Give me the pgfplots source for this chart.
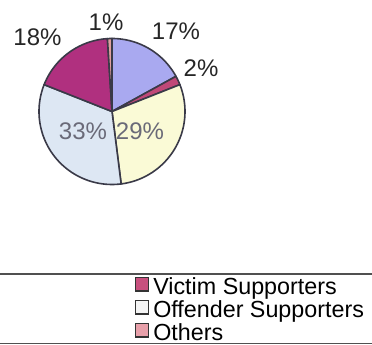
\documentclass[border=0pt]{standalone}
\usepackage{pgfplots}
\pgfplotsset{compat=1.18}
\usepackage{fontspec}
\setmainfont{Liberation Sans}
\definecolor{sA}{HTML}{A9A9F0}
\definecolor{sB}{HTML}{C04878}
\definecolor{sC}{HTML}{FAFAD6}
\definecolor{sD}{HTML}{DDE7F3}
\definecolor{sE}{HTML}{B0307F}
\definecolor{sF}{HTML}{E0A0A0}
\definecolor{pieedge}{HTML}{3A3A48}
\definecolor{inlab}{HTML}{6A6A78}
\definecolor{lgA}{HTML}{C8507E}
\definecolor{lgB}{HTML}{F4F4F4}
\definecolor{lgC}{HTML}{E8A0AA}
\definecolor{frame}{HTML}{505050}
\newcommand\pieslice[3]{%
  \pgfmathsetmacro\pe{#1-3.6*#2}%
  \edef\doslice{\noexpand\addplot[forget plot, fill=#3, draw=pieedge, line width=1.6pt, line join=round, domain=\pe:#1, samples=60, variable=\noexpand\t] ({112+73*cos(\noexpand\t)},{233.5+73*sin(\noexpand\t)}) -- (axis cs:112,233.5) -- cycle;}%
  \doslice}
\begin{document}
\begin{tikzpicture}
\useasboundingbox (0,0) rectangle (372pt,345pt);
\begin{axis}[hide axis, x=1pt, y=1pt, xmin=0, xmax=372, ymin=0, ymax=345,
  scale only axis, enlargelimits=false, clip=false,
  at={(0pt,0pt)}, anchor=south west,
  legend style={at={(axis cs:135,71)}, anchor=north west, draw=none, fill=none,
    inner sep=0pt, outer sep=0pt, row sep=0pt,
    font=\fontsize{23.3}{23.3}\selectfont,
    nodes={inner sep=0pt, text height=21pt, text depth=2pt},
    /tikz/every odd column/.append style={column sep=4pt}},
  legend cell align=left,
  sq/.style={legend image code/.code={\draw[##1, line width=1.3pt] (0pt,-5.5pt) rectangle (13pt,8pt);}}
]
\pieslice{90}{17}{sA}
\pieslice{28.8}{2}{sB}
\pieslice{21.6}{29}{sC}
\pieslice{-82.8}{33}{sD}
\pieslice{-201.6}{18}{sE}
\pieslice{-266.4}{1}{sF}
\addlegendimage{sq, fill=lgA, draw=black!80}
\addlegendentry{Victim Supporters}
\addlegendimage{sq, fill=lgB, draw=black!80}
\addlegendentry{Offender Supporters}
\addlegendimage{sq, fill=lgC, draw=black!80}
\addlegendentry{Others}
\draw[frame, line width=1.8pt] (axis cs:-5,71) -- (axis cs:380,71);
\draw[frame, line width=1.8pt] (axis cs:-5,1.5) -- (axis cs:380,1.5);
\begin{scope}[every node/.style={font=\fontsize{24}{24}\selectfont, inner sep=0pt}]
\node[text=black!85] at (axis cs:37.5,307.5) {18\%};
\node[text=black!85] at (axis cs:106,322.5) {1\%};
\node[text=black!85] at (axis cs:176,314) {17\%};
\node[text=black!85] at (axis cs:201,277) {2\%};
\node[text=inlab] at (axis cs:83,213.5) {33\%};
\node[text=inlab] at (axis cs:140,213.5) {29\%};
\end{scope}
\end{axis}
\end{tikzpicture}
\end{document}
